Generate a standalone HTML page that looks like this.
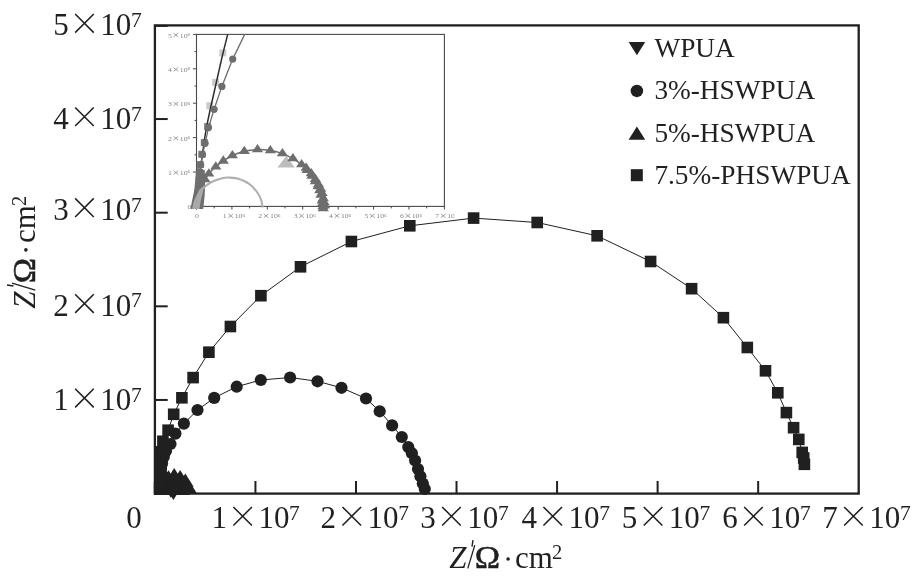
<!DOCTYPE html><html><head><meta charset="utf-8"><style>html,body{margin:0;padding:0;background:#fff;}svg{display:block;font-family:"Liberation Serif", serif;filter:grayscale(1);}</style></head><body>
<svg width="912" height="578" viewBox="0 0 912 578">
<rect width="912" height="578" fill="#fff"/>
<g>
<rect x="196.5" y="34.4" width="247.9" height="172" fill="none" stroke="#4a4a4a" stroke-width="1.1"/>
<path d="M196.5 206.4V209.6" stroke="#4a4a4a" stroke-width="1"/>
<path d="M214.207 206.4V208.4" stroke="#4a4a4a" stroke-width="1"/>
<path d="M231.914 206.4V209.6" stroke="#4a4a4a" stroke-width="1"/>
<path d="M249.621 206.4V208.4" stroke="#4a4a4a" stroke-width="1"/>
<path d="M267.329 206.4V209.6" stroke="#4a4a4a" stroke-width="1"/>
<path d="M285.036 206.4V208.4" stroke="#4a4a4a" stroke-width="1"/>
<path d="M302.743 206.4V209.6" stroke="#4a4a4a" stroke-width="1"/>
<path d="M320.45 206.4V208.4" stroke="#4a4a4a" stroke-width="1"/>
<path d="M338.157 206.4V209.6" stroke="#4a4a4a" stroke-width="1"/>
<path d="M355.864 206.4V208.4" stroke="#4a4a4a" stroke-width="1"/>
<path d="M373.571 206.4V209.6" stroke="#4a4a4a" stroke-width="1"/>
<path d="M391.279 206.4V208.4" stroke="#4a4a4a" stroke-width="1"/>
<path d="M408.986 206.4V209.6" stroke="#4a4a4a" stroke-width="1"/>
<path d="M426.693 206.4V208.4" stroke="#4a4a4a" stroke-width="1"/>
<path d="M444.4 206.4V209.6" stroke="#4a4a4a" stroke-width="1"/>
<path d="M196.5 206.4H192.9" stroke="#4a4a4a" stroke-width="1"/>
<path d="M196.5 189.2H194.5" stroke="#4a4a4a" stroke-width="1"/>
<path d="M196.5 172H192.9" stroke="#4a4a4a" stroke-width="1"/>
<path d="M196.5 154.8H194.5" stroke="#4a4a4a" stroke-width="1"/>
<path d="M196.5 137.6H192.9" stroke="#4a4a4a" stroke-width="1"/>
<path d="M196.5 120.4H194.5" stroke="#4a4a4a" stroke-width="1"/>
<path d="M196.5 103.2H192.9" stroke="#4a4a4a" stroke-width="1"/>
<path d="M196.5 86H194.5" stroke="#4a4a4a" stroke-width="1"/>
<path d="M196.5 68.8H192.9" stroke="#4a4a4a" stroke-width="1"/>
<path d="M196.5 51.6H194.5" stroke="#4a4a4a" stroke-width="1"/>
<path d="M196.5 34.4H192.9" stroke="#4a4a4a" stroke-width="1"/>
<rect x="219.3" y="49.4" width="7" height="7" fill="#cbcbcb"/>
<rect x="212.1" y="78.9" width="7" height="7" fill="#cbcbcb"/>
<rect x="206.3" y="102.3" width="7" height="7" fill="#cbcbcb"/>
<rect x="204.1" y="123.1" width="7" height="7" fill="#808080"/>
<rect x="200.8" y="139" width="7" height="7" fill="#808080"/>
<rect x="198.3" y="150.7" width="7" height="7" fill="#808080"/>
<rect x="196.7" y="161" width="7" height="7" fill="#808080"/>
<path d="M196.8 206.4 C197.133 202.5 197.983 190.733 198.8 183 C199.617 175.267 200.583 168.333 201.7 160 C202.817 151.667 204.1 141.333 205.5 133 C206.9 124.667 208.767 116.333 210.1 110 C211.433 103.667 212.183 100.833 213.5 95 C214.817 89.167 216.45 81.833 218 75 C219.55 68.167 221.183 60.767 222.8 54 C224.417 47.233 226.883 37.667 227.7 34.4" stroke="#2e2e2e" stroke-width="1.5" fill="none"/>
<path d="M196.8 204 L197.2 198 L197.8 192 L198.4 186 L199.2 179 L200 172 L200.7 165 L202.5 154.7 L205.1 143.3 L208.5 127.6 L214.1 109.3 L221.9 86.4 L232.7 59.1 L244.7 34.4" stroke="#6e6e6e" stroke-width="1.3" fill="none" stroke-linejoin="round"/>
<circle cx="196.8" cy="204" r="3.6" fill="#6e6e6e"/>
<circle cx="197.2" cy="198" r="3.6" fill="#6e6e6e"/>
<circle cx="197.8" cy="192" r="3.6" fill="#6e6e6e"/>
<circle cx="198.4" cy="186" r="3.6" fill="#6e6e6e"/>
<circle cx="199.2" cy="179" r="3.6" fill="#6e6e6e"/>
<circle cx="200" cy="172" r="3.6" fill="#6e6e6e"/>
<circle cx="200.7" cy="165" r="3.6" fill="#6e6e6e"/>
<circle cx="202.5" cy="154.7" r="3.6" fill="#6e6e6e"/>
<circle cx="205.1" cy="143.3" r="3.6" fill="#6e6e6e"/>
<circle cx="208.5" cy="127.6" r="3.6" fill="#6e6e6e"/>
<circle cx="214.1" cy="109.3" r="3.6" fill="#6e6e6e"/>
<circle cx="221.9" cy="86.4" r="3.6" fill="#6e6e6e"/>
<circle cx="232.7" cy="59.1" r="3.6" fill="#6e6e6e"/>
<path d="M190.5 209 L192 201 L194.5 189 L195.8 173 L197 168 L204.7 170 L205.2 180 L205 189 L204.6 196 L204 202 L203.2 209 Z" fill="#6e6e6e"/>
<path d="M286.2 156 L294.8 167.6 L277.4 167.6 Z" fill="#bdbdbd"/>
<path d="M205 179.6 C205.633 178.617 207 175.833 208.8 173.7 C210.6 171.567 213.383 168.933 215.8 166.8 C218.217 164.667 220.533 162.783 223.3 160.9 C226.067 159.017 228.9 157.117 232.4 155.5 C235.9 153.883 240.117 152.183 244.3 151.2 C248.483 150.217 253.167 149.7 257.5 149.6 C261.833 149.5 266.15 149.933 270.3 150.6 C274.45 151.267 278.633 152.267 282.4 153.6 C286.167 154.933 289.7 156.767 292.9 158.6 C296.1 160.433 299.25 162.65 301.6 164.6 C303.95 166.55 305.283 168.417 307 170.3 C308.717 172.183 310.517 174.017 311.9 175.9 C313.283 177.783 314.267 179.817 315.3 181.6 C316.333 183.383 317.35 185.1 318.1 186.6 C318.85 188.1 319.333 189.183 319.8 190.6 C320.267 192.017 320.517 193.417 320.9 195.1 C321.283 196.783 321.817 199.3 322.1 200.7 C322.383 202.1 322.467 202.533 322.6 203.5 C322.733 204.467 322.85 206 322.9 206.5" stroke="#6e6e6e" stroke-width="1.5" fill="none"/>
<path d="M205 174.067L210.6 182.367L199.4 182.367Z" fill="#6e6e6e"/>
<path d="M208.8 168.167L214.4 176.467L203.2 176.467Z" fill="#6e6e6e"/>
<path d="M215.8 161.267L221.4 169.567L210.2 169.567Z" fill="#6e6e6e"/>
<path d="M223.3 155.367L228.9 163.667L217.7 163.667Z" fill="#6e6e6e"/>
<path d="M232.4 149.967L238 158.267L226.8 158.267Z" fill="#6e6e6e"/>
<path d="M244.3 145.667L249.9 153.967L238.7 153.967Z" fill="#6e6e6e"/>
<path d="M257.5 144.067L263.1 152.367L251.9 152.367Z" fill="#6e6e6e"/>
<path d="M270.3 145.067L275.9 153.367L264.7 153.367Z" fill="#6e6e6e"/>
<path d="M282.4 148.067L288 156.367L276.8 156.367Z" fill="#6e6e6e"/>
<path d="M292.9 153.067L298.5 161.367L287.3 161.367Z" fill="#6e6e6e"/>
<path d="M301.6 159.067L307.2 167.367L296 167.367Z" fill="#6e6e6e"/>
<path d="M307 164.767L312.6 173.067L301.4 173.067Z" fill="#6e6e6e"/>
<path d="M311.9 170.367L317.5 178.667L306.3 178.667Z" fill="#6e6e6e"/>
<path d="M315.3 176.067L320.9 184.367L309.7 184.367Z" fill="#6e6e6e"/>
<path d="M318.1 181.067L323.7 189.367L312.5 189.367Z" fill="#6e6e6e"/>
<path d="M319.8 185.067L325.4 193.367L314.2 193.367Z" fill="#6e6e6e"/>
<path d="M320.9 189.567L326.5 197.867L315.3 197.867Z" fill="#6e6e6e"/>
<path d="M322.1 195.167L327.7 203.467L316.5 203.467Z" fill="#6e6e6e"/>
<path d="M322.6 197.967L328.2 206.267L317 206.267Z" fill="#6e6e6e"/>
<path d="M322.9 200.967L328.5 209.267L317.3 209.267Z" fill="#6e6e6e"/>
<path d="M306.1 162.417L311.7 170.717L300.5 170.717Z" fill="#6e6e6e"/>
<path d="M311.25 168.067L316.85 176.367L305.65 176.367Z" fill="#6e6e6e"/>
<path d="M315.4 173.717L321 182.017L309.8 182.017Z" fill="#6e6e6e"/>
<path d="M318.5 179.067L324.1 187.367L312.9 187.367Z" fill="#6e6e6e"/>
<path d="M320.75 183.567L326.35 191.867L315.15 191.867Z" fill="#6e6e6e"/>
<path d="M322.15 187.817L327.75 196.117L316.55 196.117Z" fill="#6e6e6e"/>
<path d="M323.3 192.867L328.9 201.167L317.7 201.167Z" fill="#6e6e6e"/>
<path d="M324.15 197.067L329.75 205.367L318.55 205.367Z" fill="#6e6e6e"/>
<path d="M324.55 199.967L330.15 208.267L318.95 208.267Z" fill="#6e6e6e"/>
<path d="M323.2 202.967L328.8 211.267L317.6 211.267Z" fill="#6e6e6e"/>
<path d="M201.5 190 C201.917 189.583 202.333 188.833 204 187.5 C205.667 186.167 208.467 183.55 211.5 182 C214.533 180.45 219.167 178.933 222.2 178.2 C225.233 177.467 226.733 177.433 229.7 177.6 C232.667 177.767 236.617 178.05 240 179.2 C243.383 180.35 247.167 182.367 250 184.5 C252.833 186.633 255.167 189.5 257 192 C258.833 194.5 260.067 196.917 261 199.5 C261.933 202.083 262.333 206.167 262.6 207.5" stroke="#afafaf" stroke-width="2.1" fill="none"/>
<path d="M192 209 L193.7 201.6 L199.4 189.4 L204 185.8 L206 185.6 L203.5 189.6 L200.6 201.6 L199.5 209 Z" fill="#a9a9a9"/>
<g transform="translate(168 175.1) scale(0.252 0.207)"><text x="0" y="0" font-size="31" fill="#858585">1</text><path d="M21.95 -21.25L40.55 -2.65M21.95 -2.65L40.55 -21.25" stroke="#858585" stroke-width="3.4" fill="none"/><text x="47" y="0" font-size="31" fill="#858585">10</text><text x="77.7" y="-8.1" font-size="21.5" fill="#858585">6</text></g>
<g transform="translate(168 140.7) scale(0.252 0.207)"><text x="0" y="0" font-size="31" fill="#858585">2</text><path d="M21.95 -21.25L40.55 -2.65M21.95 -2.65L40.55 -21.25" stroke="#858585" stroke-width="3.4" fill="none"/><text x="47" y="0" font-size="31" fill="#858585">10</text><text x="77.7" y="-8.1" font-size="21.5" fill="#858585">6</text></g>
<g transform="translate(168 106.3) scale(0.252 0.207)"><text x="0" y="0" font-size="31" fill="#858585">3</text><path d="M21.95 -21.25L40.55 -2.65M21.95 -2.65L40.55 -21.25" stroke="#858585" stroke-width="3.4" fill="none"/><text x="47" y="0" font-size="31" fill="#858585">10</text><text x="77.7" y="-8.1" font-size="21.5" fill="#858585">6</text></g>
<g transform="translate(168 71.9) scale(0.252 0.207)"><text x="0" y="0" font-size="31" fill="#858585">4</text><path d="M21.95 -21.25L40.55 -2.65M21.95 -2.65L40.55 -21.25" stroke="#858585" stroke-width="3.4" fill="none"/><text x="47" y="0" font-size="31" fill="#858585">10</text><text x="77.7" y="-8.1" font-size="21.5" fill="#858585">6</text></g>
<g transform="translate(168 37.5) scale(0.252 0.207)"><text x="0" y="0" font-size="31" fill="#858585">5</text><path d="M21.95 -21.25L40.55 -2.65M21.95 -2.65L40.55 -21.25" stroke="#858585" stroke-width="3.4" fill="none"/><text x="47" y="0" font-size="31" fill="#858585">10</text><text x="77.7" y="-8.1" font-size="21.5" fill="#858585">6</text></g>
<text transform="translate(187.6 208.6) scale(0.252 0.207)" font-size="31" fill="#858585">0</text>
<text transform="translate(194.9 218.3) scale(0.252 0.207)" font-size="31" fill="#858585">0</text>
<g transform="translate(222.814 218.3) scale(0.252 0.207)"><text x="0" y="0" font-size="31" fill="#858585">1</text><path d="M21.95 -21.25L40.55 -2.65M21.95 -2.65L40.55 -21.25" stroke="#858585" stroke-width="3.4" fill="none"/><text x="47" y="0" font-size="31" fill="#858585">10</text><text x="77.7" y="-8.1" font-size="21.5" fill="#858585">6</text></g>
<g transform="translate(258.229 218.3) scale(0.252 0.207)"><text x="0" y="0" font-size="31" fill="#858585">2</text><path d="M21.95 -21.25L40.55 -2.65M21.95 -2.65L40.55 -21.25" stroke="#858585" stroke-width="3.4" fill="none"/><text x="47" y="0" font-size="31" fill="#858585">10</text><text x="77.7" y="-8.1" font-size="21.5" fill="#858585">6</text></g>
<g transform="translate(293.643 218.3) scale(0.252 0.207)"><text x="0" y="0" font-size="31" fill="#858585">3</text><path d="M21.95 -21.25L40.55 -2.65M21.95 -2.65L40.55 -21.25" stroke="#858585" stroke-width="3.4" fill="none"/><text x="47" y="0" font-size="31" fill="#858585">10</text><text x="77.7" y="-8.1" font-size="21.5" fill="#858585">6</text></g>
<g transform="translate(329.057 218.3) scale(0.252 0.207)"><text x="0" y="0" font-size="31" fill="#858585">4</text><path d="M21.95 -21.25L40.55 -2.65M21.95 -2.65L40.55 -21.25" stroke="#858585" stroke-width="3.4" fill="none"/><text x="47" y="0" font-size="31" fill="#858585">10</text><text x="77.7" y="-8.1" font-size="21.5" fill="#858585">6</text></g>
<g transform="translate(364.471 218.3) scale(0.252 0.207)"><text x="0" y="0" font-size="31" fill="#858585">5</text><path d="M21.95 -21.25L40.55 -2.65M21.95 -2.65L40.55 -21.25" stroke="#858585" stroke-width="3.4" fill="none"/><text x="47" y="0" font-size="31" fill="#858585">10</text><text x="77.7" y="-8.1" font-size="21.5" fill="#858585">6</text></g>
<g transform="translate(399.886 218.3) scale(0.252 0.207)"><text x="0" y="0" font-size="31" fill="#858585">6</text><path d="M21.95 -21.25L40.55 -2.65M21.95 -2.65L40.55 -21.25" stroke="#858585" stroke-width="3.4" fill="none"/><text x="47" y="0" font-size="31" fill="#858585">10</text><text x="77.7" y="-8.1" font-size="21.5" fill="#858585">6</text></g>
<g transform="translate(435.3 218.3) scale(0.252 0.207)"><text x="0" y="0" font-size="31" fill="#858585">7</text><path d="M21.95 -21.25L40.55 -2.65M21.95 -2.65L40.55 -21.25" stroke="#858585" stroke-width="3.4" fill="none"/><text x="47" y="0" font-size="31" fill="#858585">10</text><text x="77.7" y="-8.1" font-size="21.5" fill="#858585">6</text></g>
</g>
<rect x="454.5" y="208.5" width="12" height="12" fill="#fff"/>
<rect x="154.9" y="25.4" width="703.8" height="468.2" fill="none" stroke="#231f20" stroke-width="2.3"/>
<path d="M255.443 493.6V481" stroke="#231f20" stroke-width="2"/>
<path d="M355.986 493.6V481" stroke="#231f20" stroke-width="2"/>
<path d="M456.529 493.6V481" stroke="#231f20" stroke-width="2"/>
<path d="M557.071 493.6V481" stroke="#231f20" stroke-width="2"/>
<path d="M657.614 493.6V481" stroke="#231f20" stroke-width="2"/>
<path d="M758.157 493.6V481" stroke="#231f20" stroke-width="2"/>
<path d="M154.9 399.96H167.7" stroke="#231f20" stroke-width="2"/>
<path d="M154.9 306.32H167.7" stroke="#231f20" stroke-width="2"/>
<path d="M154.9 212.68H167.7" stroke="#231f20" stroke-width="2"/>
<path d="M154.9 119.04H167.7" stroke="#231f20" stroke-width="2"/>
<path d="M154.9 25.9H167.7" stroke="#231f20" stroke-width="2"/>
<path d="M162.9 441.3 L168.1 430.2 L173.7 414.3 L181.9 397.8 L193.1 377.6 L208.9 352.2 L230.4 326.5 L260.9 295.7 L300.5 266.8 L351.4 241.5 L409.8 225.8 L473.6 218.1 L537.2 222.5 L597.1 235.8 L650.6 261.5 L691.6 288.7 L723.4 317.7 L747.3 347.5 L765.5 370.8 L777.8 392.8 L786.4 412.6 L793.6 427.7 L798.8 439.4 L802.2 452.4 L803.7 458 L804.4 464.3" stroke="#231f20" stroke-width="1" fill="none" stroke-linejoin="round"/>
<path d="M170.5 444 L175.4 433.6 L183.9 423.6 L197.5 410 L214.2 397.9 L236.7 386.7 L260.8 380 L290.1 377.5 L317.5 381.3 L341.5 387.8 L366 398.5 L379.7 411.3 L392.1 425.4 L401.8 437 L408.3 447.1 L411.9 453.2 L415.1 460.5 L418 469 L420.4 476.2 L422.8 483.5 L424.8 489" stroke="#231f20" stroke-width="1" fill="none" stroke-linejoin="round"/>
<path d="M154 495 L154 447 L157 446 L162 446 L165 452 L166 462 L166.5 471 L172 478 L178 480 L184 484 L188 490 L190 495Z" fill="#231f20"/>
<path d="M162.5 480.2L170.8 493.4L154.2 493.4Z" fill="#231f20"/>
<path d="M162.5 477.2L170.8 490.4L154.2 490.4Z" fill="#231f20"/>
<path d="M163.5 473.7L171.8 486.9L155.2 486.9Z" fill="#231f20"/>
<path d="M168.5 470.2L176.8 483.4L160.2 483.4Z" fill="#231f20"/>
<path d="M174.2 468L182.5 481.2L165.9 481.2Z" fill="#231f20"/>
<path d="M180.1 470.1L188.4 483.3L171.8 483.3Z" fill="#231f20"/>
<path d="M185.3 473.5L193.6 486.7L177 486.7Z" fill="#231f20"/>
<path d="M188.4 479.8L196.7 493L180.1 493Z" fill="#231f20"/>
<path d="M162.5 484.6L179.1 484.6L170.8 497.8Z" fill="#231f20"/>
<path d="M165.1 486.8L181.7 486.8L173.4 500Z" fill="#231f20"/>
<circle cx="160.5" cy="487" r="6.1" fill="#231f20"/>
<circle cx="160.5" cy="481" r="6.1" fill="#231f20"/>
<circle cx="160.8" cy="475" r="6.1" fill="#231f20"/>
<circle cx="161" cy="469" r="6.1" fill="#231f20"/>
<circle cx="162" cy="463.5" r="6.1" fill="#231f20"/>
<circle cx="163.8" cy="457" r="6.1" fill="#231f20"/>
<circle cx="166" cy="451" r="6.1" fill="#231f20"/>
<circle cx="170.5" cy="444" r="6.1" fill="#231f20"/>
<circle cx="175.4" cy="433.6" r="6.1" fill="#231f20"/>
<circle cx="183.9" cy="423.6" r="6.1" fill="#231f20"/>
<circle cx="197.5" cy="410" r="6.1" fill="#231f20"/>
<circle cx="214.2" cy="397.9" r="6.1" fill="#231f20"/>
<circle cx="236.7" cy="386.7" r="6.1" fill="#231f20"/>
<circle cx="260.8" cy="380" r="6.1" fill="#231f20"/>
<circle cx="290.1" cy="377.5" r="6.1" fill="#231f20"/>
<circle cx="317.5" cy="381.3" r="6.1" fill="#231f20"/>
<circle cx="341.5" cy="387.8" r="6.1" fill="#231f20"/>
<circle cx="366" cy="398.5" r="6.1" fill="#231f20"/>
<circle cx="379.7" cy="411.3" r="6.1" fill="#231f20"/>
<circle cx="392.1" cy="425.4" r="6.1" fill="#231f20"/>
<circle cx="401.8" cy="437" r="6.1" fill="#231f20"/>
<circle cx="408.3" cy="447.1" r="6.1" fill="#231f20"/>
<circle cx="411.9" cy="453.2" r="6.1" fill="#231f20"/>
<circle cx="415.1" cy="460.5" r="6.1" fill="#231f20"/>
<circle cx="418" cy="469" r="6.1" fill="#231f20"/>
<circle cx="420.4" cy="476.2" r="6.1" fill="#231f20"/>
<circle cx="422.8" cy="483.5" r="6.1" fill="#231f20"/>
<circle cx="424.8" cy="489" r="6.1" fill="#231f20"/>
<rect x="153.8" y="482.2" width="11.6" height="11.6" fill="#231f20"/>
<rect x="154" y="476.2" width="11.6" height="11.6" fill="#231f20"/>
<rect x="154.2" y="470.2" width="11.6" height="11.6" fill="#231f20"/>
<rect x="154.4" y="464.2" width="11.6" height="11.6" fill="#231f20"/>
<rect x="154.7" y="458.2" width="11.6" height="11.6" fill="#231f20"/>
<rect x="155" y="452.2" width="11.6" height="11.6" fill="#231f20"/>
<rect x="155.4" y="446.2" width="11.6" height="11.6" fill="#231f20"/>
<rect x="157.1" y="435.5" width="11.6" height="11.6" fill="#231f20"/>
<rect x="162.3" y="424.4" width="11.6" height="11.6" fill="#231f20"/>
<rect x="167.9" y="408.5" width="11.6" height="11.6" fill="#231f20"/>
<rect x="176.1" y="392" width="11.6" height="11.6" fill="#231f20"/>
<rect x="187.3" y="371.8" width="11.6" height="11.6" fill="#231f20"/>
<rect x="203.1" y="346.4" width="11.6" height="11.6" fill="#231f20"/>
<rect x="224.6" y="320.7" width="11.6" height="11.6" fill="#231f20"/>
<rect x="255.1" y="289.9" width="11.6" height="11.6" fill="#231f20"/>
<rect x="294.7" y="261" width="11.6" height="11.6" fill="#231f20"/>
<rect x="345.6" y="235.7" width="11.6" height="11.6" fill="#231f20"/>
<rect x="404" y="220" width="11.6" height="11.6" fill="#231f20"/>
<rect x="467.8" y="212.3" width="11.6" height="11.6" fill="#231f20"/>
<rect x="531.4" y="216.7" width="11.6" height="11.6" fill="#231f20"/>
<rect x="591.3" y="230" width="11.6" height="11.6" fill="#231f20"/>
<rect x="644.8" y="255.7" width="11.6" height="11.6" fill="#231f20"/>
<rect x="685.8" y="282.9" width="11.6" height="11.6" fill="#231f20"/>
<rect x="717.6" y="311.9" width="11.6" height="11.6" fill="#231f20"/>
<rect x="741.5" y="341.7" width="11.6" height="11.6" fill="#231f20"/>
<rect x="759.7" y="365" width="11.6" height="11.6" fill="#231f20"/>
<rect x="772" y="387" width="11.6" height="11.6" fill="#231f20"/>
<rect x="780.6" y="406.8" width="11.6" height="11.6" fill="#231f20"/>
<rect x="787.8" y="421.9" width="11.6" height="11.6" fill="#231f20"/>
<rect x="793" y="433.6" width="11.6" height="11.6" fill="#231f20"/>
<rect x="796.4" y="446.6" width="11.6" height="11.6" fill="#231f20"/>
<rect x="797.9" y="452.2" width="11.6" height="11.6" fill="#231f20"/>
<rect x="798.6" y="458.5" width="11.6" height="11.6" fill="#231f20"/>
<g transform="translate(53.2 35.3)"><text x="0" y="0" font-size="31" fill="#231f20">5</text><path d="M21.95 -21.25L40.55 -2.65M21.95 -2.65L40.55 -21.25" stroke="#231f20" stroke-width="1.55" fill="none"/><text x="47" y="0" font-size="31" fill="#231f20">10</text><text x="77.7" y="-8.1" font-size="21.5" fill="#231f20">7</text></g>
<g transform="translate(53.2 128.7)"><text x="0" y="0" font-size="31" fill="#231f20">4</text><path d="M21.95 -21.25L40.55 -2.65M21.95 -2.65L40.55 -21.25" stroke="#231f20" stroke-width="1.55" fill="none"/><text x="47" y="0" font-size="31" fill="#231f20">10</text><text x="77.7" y="-8.1" font-size="21.5" fill="#231f20">7</text></g>
<g transform="translate(53.2 219.6)"><text x="0" y="0" font-size="31" fill="#231f20">3</text><path d="M21.95 -21.25L40.55 -2.65M21.95 -2.65L40.55 -21.25" stroke="#231f20" stroke-width="1.55" fill="none"/><text x="47" y="0" font-size="31" fill="#231f20">10</text><text x="77.7" y="-8.1" font-size="21.5" fill="#231f20">7</text></g>
<g transform="translate(53.2 315.5)"><text x="0" y="0" font-size="31" fill="#231f20">2</text><path d="M21.95 -21.25L40.55 -2.65M21.95 -2.65L40.55 -21.25" stroke="#231f20" stroke-width="1.55" fill="none"/><text x="47" y="0" font-size="31" fill="#231f20">10</text><text x="77.7" y="-8.1" font-size="21.5" fill="#231f20">7</text></g>
<g transform="translate(53.2 410)"><text x="0" y="0" font-size="31" fill="#231f20">1</text><path d="M21.95 -21.25L40.55 -2.65M21.95 -2.65L40.55 -21.25" stroke="#231f20" stroke-width="1.55" fill="none"/><text x="47" y="0" font-size="31" fill="#231f20">10</text><text x="77.7" y="-8.1" font-size="21.5" fill="#231f20">7</text></g>
<text x="126.3" y="528.2" font-size="31" fill="#231f20">0</text>
<g transform="translate(211.4 528.2)"><text x="0" y="0" font-size="31" fill="#231f20">1</text><path d="M21.95 -21.25L40.55 -2.65M21.95 -2.65L40.55 -21.25" stroke="#231f20" stroke-width="1.55" fill="none"/><text x="47" y="0" font-size="31" fill="#231f20">10</text><text x="77.7" y="-8.1" font-size="21.5" fill="#231f20">7</text></g>
<g transform="translate(320.5 528.2)"><text x="0" y="0" font-size="31" fill="#231f20">2</text><path d="M21.95 -21.25L40.55 -2.65M21.95 -2.65L40.55 -21.25" stroke="#231f20" stroke-width="1.55" fill="none"/><text x="47" y="0" font-size="31" fill="#231f20">10</text><text x="77.7" y="-8.1" font-size="21.5" fill="#231f20">7</text></g>
<g transform="translate(420.2 528.2)"><text x="0" y="0" font-size="31" fill="#231f20">3</text><path d="M21.95 -21.25L40.55 -2.65M21.95 -2.65L40.55 -21.25" stroke="#231f20" stroke-width="1.55" fill="none"/><text x="47" y="0" font-size="31" fill="#231f20">10</text><text x="77.7" y="-8.1" font-size="21.5" fill="#231f20">7</text></g>
<g transform="translate(521.5 528.2)"><text x="0" y="0" font-size="31" fill="#231f20">4</text><path d="M21.95 -21.25L40.55 -2.65M21.95 -2.65L40.55 -21.25" stroke="#231f20" stroke-width="1.55" fill="none"/><text x="47" y="0" font-size="31" fill="#231f20">10</text><text x="77.7" y="-8.1" font-size="21.5" fill="#231f20">7</text></g>
<g transform="translate(621.8 528.2)"><text x="0" y="0" font-size="31" fill="#231f20">5</text><path d="M21.95 -21.25L40.55 -2.65M21.95 -2.65L40.55 -21.25" stroke="#231f20" stroke-width="1.55" fill="none"/><text x="47" y="0" font-size="31" fill="#231f20">10</text><text x="77.7" y="-8.1" font-size="21.5" fill="#231f20">7</text></g>
<g transform="translate(722.2 528.2)"><text x="0" y="0" font-size="31" fill="#231f20">6</text><path d="M21.95 -21.25L40.55 -2.65M21.95 -2.65L40.55 -21.25" stroke="#231f20" stroke-width="1.55" fill="none"/><text x="47" y="0" font-size="31" fill="#231f20">10</text><text x="77.7" y="-8.1" font-size="21.5" fill="#231f20">7</text></g>
<g transform="translate(822.2 528.2)"><text x="0" y="0" font-size="31" fill="#231f20">7</text><path d="M21.95 -21.25L40.55 -2.65M21.95 -2.65L40.55 -21.25" stroke="#231f20" stroke-width="1.55" fill="none"/><text x="47" y="0" font-size="31" fill="#231f20">10</text><text x="77.7" y="-8.1" font-size="21.5" fill="#231f20">7</text></g>
<text x="449.3" y="567.6" font-size="31" font-style="italic" fill="#231f20">Z</text><path d="M467.8 568.4L474.8 545.1" stroke="#231f20" stroke-width="1.3"/><path d="M472 546.6L473 540.1" stroke="#231f20" stroke-width="1.4"/><text transform="translate(474.8 567.6) scale(1.1 1)" font-size="31" fill="#231f20" stroke="#231f20" stroke-width="0.5">&#937;</text><circle cx="508.1" cy="559" r="1.8" fill="#231f20"/><text x="515.1" y="567.6" font-size="31" fill="#231f20">cm</text><text x="552" y="559.2" font-size="20.5" fill="#231f20">2</text>
<g transform="translate(34.5 309.2) rotate(-90)"><text x="0.5" y="0" font-size="31" font-style="italic" fill="#231f20">Z</text><path d="M19 0.8L26 -22.5" stroke="#231f20" stroke-width="1.3"/><path d="M23.2 -21L24.2 -27.5" stroke="#231f20" stroke-width="1.4"/><text transform="translate(26 0) scale(1.1 1)" font-size="31" fill="#231f20" stroke="#231f20" stroke-width="0.5">&#937;</text><circle cx="59.3" cy="-8.6" r="1.8" fill="#231f20"/><text x="66.3" y="0" font-size="31" fill="#231f20">cm</text><text x="103.2" y="-8.4" font-size="20.5" fill="#231f20">2</text></g>
<path d="M628.6 42L645.2 42L636.9 55.2Z" fill="#231f20"/>
<circle cx="636.9" cy="90.9" r="6.25" fill="#231f20"/>
<path d="M636.9 126.6L645.2 139.8L628.6 139.8Z" fill="#231f20"/>
<rect x="630.8" y="169.2" width="12" height="12" fill="#231f20"/>
<text x="654.4" y="56.6" font-size="27.3" fill="#231f20">WPUA</text>
<text x="654.4" y="98.5" font-size="27.3" fill="#231f20">3%-HSWPUA</text>
<text x="654.4" y="141.8" font-size="27.3" fill="#231f20">5%-HSWPUA</text>
<text x="654.4" y="184" font-size="27.3" fill="#231f20">7.5%-PHSWPUA</text>
</svg></body></html>
